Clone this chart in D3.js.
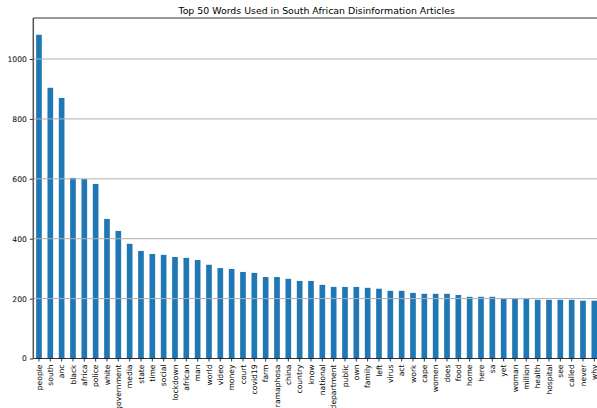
<!DOCTYPE html>
<html>
<head>
<meta charset="utf-8">
<script src="https://cdn.jsdelivr.net/npm/d3@7"></script>
<style>
  html, body { margin: 0; padding: 0; background: #fff; }
  svg { display: block; }
  text { font-family: "DejaVu Sans", sans-serif; fill: #000; }
</style>
</head>
<body>
<svg id="chart" width="597" height="408"></svg>
<script>
const words = ["people","south","anc","black","africa","police","white","government","media","state",
  "time","social","lockdown","african","man","world","video","money","court","covid19",
  "farm","ramaphosa","china","country","know","national","department","public","own","family",
  "left","virus","act","work","cape","women","does","food","home","here",
  "sa","yet","woman","million","health","hospital","see","called","never","why"];
const counts = [1081,904,870,603,599,583,466,426,383,359,
  349,346,339,336,329,313,302,299,289,286,
  272,272,266,259,259,246,239,239,239,236,
  233,226,226,219,216,216,216,212,206,206,
  206,199,199,199,196,196,196,196,193,193];
const yTicks = [0,200,400,600,800,1000];
const title = "Top 50 Words Used in South African Disinformation Articles";

const svg = d3.select("#chart");
const mLeft = 33.3, mRight = 600, mTop = 18, mBottom = 358.5;

const x = d3.scaleBand().domain(words).range([mLeft, mRight]).paddingInner(0.5).paddingOuter(0.25);
const y = d3.scaleLinear().domain([0, 1137]).range([mBottom, mTop]);

// bars
svg.append("g").selectAll("rect").data(words).join("rect")
  .attr("x", d => x(d))
  .attr("width", x.bandwidth())
  .attr("y", (d, i) => y(counts[i]))
  .attr("height", (d, i) => y(0) - y(counts[i]))
  .attr("fill", "#1f77b4");

// gridlines (above bars, like matplotlib patches)
svg.append("g").selectAll("line").data(yTicks.filter(t => t > 0)).join("line")
  .attr("x1", mLeft).attr("x2", mRight)
  .attr("y1", d => y(d)).attr("y2", d => y(d))
  .attr("stroke", "#b0b0b0").attr("stroke-width", 1);

// y axis
const yAxis = d3.axisLeft(y).tickValues(yTicks).tickSize(3.5).tickPadding(3).tickFormat(d3.format("d"));
const gy = svg.append("g").attr("transform", `translate(${mLeft},0)`).call(yAxis);
gy.select(".domain").remove();
gy.selectAll("text").style("font-size", "7.6px").style("font-family", "DejaVu Sans").attr("fill", "#000");
gy.selectAll("line").attr("stroke", "#000").attr("stroke-width", 0.8);

// x axis
const xAxis = d3.axisBottom(x).tickSize(3).tickPadding(0);
const gx = svg.append("g").attr("transform", `translate(0,${mBottom})`).call(xAxis);
gx.select(".domain").remove();
gx.selectAll("line").attr("stroke", "#000").attr("stroke-width", 0.8);
gx.selectAll("text")
  .style("font-size", "7.6px").style("font-family", "DejaVu Sans").attr("fill", "#000")
  .attr("text-anchor", "end")
  .attr("transform", "rotate(-90)")
  .attr("x", -6).attr("y", 0).attr("dy", "0.35em");

// spines
svg.append("line").attr("x1", mLeft).attr("x2", mLeft).attr("y1", mTop).attr("y2", mBottom)
  .attr("stroke", "#555").attr("stroke-width", 1.5);
svg.append("line").attr("x1", mLeft).attr("x2", mRight).attr("y1", mBottom).attr("y2", mBottom)
  .attr("stroke", "#000").attr("stroke-width", 0.8);
svg.append("line").attr("x1", mLeft).attr("x2", mRight).attr("y1", mTop).attr("y2", mTop)
  .attr("stroke", "#000").attr("stroke-width", 0.8);
svg.append("line").attr("x1", mRight).attr("x2", mRight).attr("y1", mTop).attr("y2", mBottom)
  .attr("stroke", "#000").attr("stroke-width", 0.8);

// title
svg.append("text").attr("x", (mLeft + mRight) / 2).attr("y", 14)
  .attr("text-anchor", "middle").style("font-size", "9.4px").text(title);
</script>
</body>
</html>
